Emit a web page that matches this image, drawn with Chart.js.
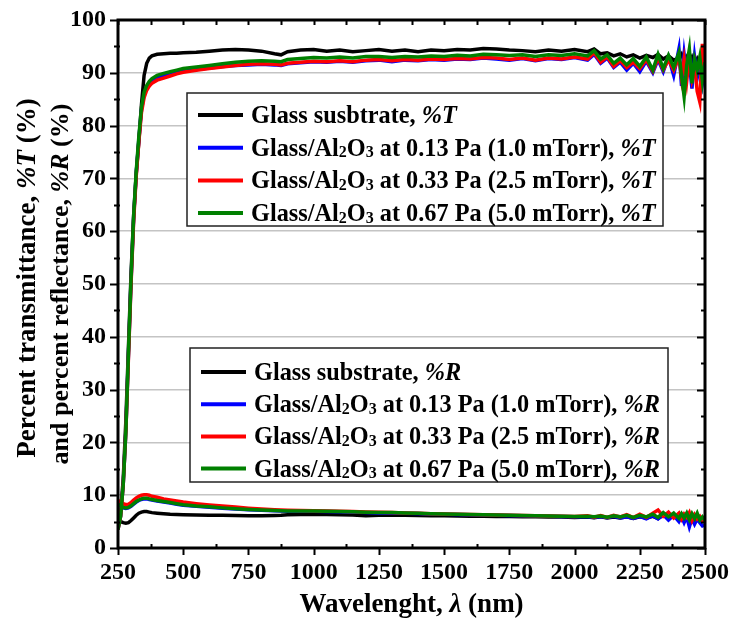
<!DOCTYPE html>
<html>
<head>
<meta charset="utf-8">
<script src="https://cdn.jsdelivr.net/npm/chart.js@4.4.1/dist/chart.umd.min.js"></script>
<style>
  html, body { margin: 0; padding: 0; background: #fff; }
  #wrap { position: relative; width: 731px; height: 626px; }
</style>
</head>
<body>
<div id="wrap"><canvas id="spectra"></canvas></div>
<script>
// wavelength, nm (shared by all series)
var wavelength = [250, 260, 270, 280, 290, 300, 310, 320, 330, 340, 350, 360, 370, 380, 400, 425, 450, 475, 500,
  550, 600, 650, 700, 750, 800, 850, 875, 900, 950, 1000, 1050, 1100, 1150, 1200, 1250, 1300, 1350, 1400, 1450,
  1500, 1550, 1600, 1650, 1700, 1750, 1800, 1850, 1900, 1950, 2000, 2050, 2075, 2100, 2125, 2150, 2175, 2200,
  2225, 2250, 2275, 2300, 2320, 2340, 2360, 2380, 2400, 2410, 2420, 2430, 2440, 2450, 2460, 2470, 2480, 2490, 2500];

// transmittance %T
var glassT = [4, 7, 13, 24, 38, 52, 63, 71, 77, 84, 89.5, 91.8, 92.8, 93.2, 93.5, 93.6, 93.7, 93.7, 93.8,
  93.9, 94.1, 94.3, 94.4, 94.3, 94.1, 93.6, 93.4, 94.0, 94.3, 94.4, 94.1, 94.3, 94.0, 94.2, 94.4, 94.1, 94.3, 94.0, 94.3,
  94.2, 94.4, 94.3, 94.6, 94.5, 94.3, 94.2, 94.0, 94.3, 94.1, 94.4, 94.0, 94.5, 93.6, 93.8, 93.2, 93.6, 93.0,
  93.4, 92.8, 93.3, 92.9, 93.5, 92.6, 93.2, 92.4, 92.8, 93.5, 92.2, 93.0, 91.8, 92.9, 91.5, 92.6, 91.4, 92.3, 91.5];
var al013T = [3.5, 6, 12, 22, 36.5, 50.5, 62.5, 71, 77.5, 83, 85.8, 87.1, 87.9, 88.4, 89.0, 89.4, 89.7, 90.0, 90.3,
  90.6, 90.9, 91.2, 91.4, 91.5, 91.6, 91.5, 91.4, 91.7, 91.9, 92.1, 92.0, 92.2, 92.0, 92.3, 92.4, 92.1, 92.4, 92.3, 92.5,
  92.4, 92.6, 92.5, 92.8, 92.6, 92.4, 92.7, 92.3, 92.7, 92.5, 92.9, 92.4, 93.5, 91.8, 92.8, 91.0, 92.0, 90.5,
  91.8, 90.2, 92.2, 90.0, 92.5, 90.2, 93.0, 89.5, 94.5, 87.5, 93.5, 89.5, 92.0, 87.0, 93.0, 89.0, 91.5, 88.0, 91.0];
var al033T = [3.5, 6, 12, 22, 36, 50, 62, 70.5, 77, 82.5, 85.3, 86.7, 87.5, 88.0, 88.6, 89.0, 89.4, 89.8, 90.1,
  90.5, 90.8, 91.1, 91.4, 91.6, 91.7, 91.6, 91.5, 91.8, 92.0, 92.2, 92.1, 92.3, 92.1, 92.4, 92.5, 92.3, 92.5, 92.4, 92.6,
  92.5, 92.7, 92.6, 92.9, 92.8, 92.5, 92.8, 92.4, 92.8, 92.6, 93.0, 92.6, 93.8, 92.0, 93.0, 91.2, 92.3, 91.0,
  92.0, 90.8, 92.5, 90.3, 92.8, 90.6, 92.5, 90.5, 93.0, 89.0, 92.5, 88.5, 93.2, 89.0, 91.5, 86.5, 84.5, 95.5, 89.0];
var al067T = [3.5, 6, 12, 22, 37, 51, 63, 71.5, 78, 83.5, 86.3, 87.6, 88.4, 88.9, 89.5, 89.9, 90.2, 90.5, 90.8,
  91.1, 91.4, 91.7, 92.0, 92.2, 92.3, 92.2, 92.1, 92.5, 92.7, 92.9, 92.8, 93.0, 92.8, 93.1, 93.1, 92.9, 93.1, 93.0, 93.2,
  93.1, 93.3, 93.2, 93.5, 93.4, 93.3, 93.4, 93.1, 93.4, 93.3, 93.6, 93.2, 94.2, 92.6, 93.4, 91.8, 92.8, 91.5,
  92.7, 91.2, 93.0, 90.5, 93.5, 90.8, 93.3, 91.0, 93.8, 89.5, 85.5, 91.5, 94.5, 88.0, 92.5, 90.5, 93.0, 88.5, 92.0];

// reflectance %R
var glassR = [5.0, 5.0, 4.8, 4.7, 4.8, 5.2, 5.7, 6.2, 6.6, 6.8, 6.9, 6.9, 6.8, 6.7, 6.6, 6.5, 6.4, 6.35, 6.3,
  6.25, 6.2, 6.2, 6.15, 6.1, 6.1, 6.15, 6.2, 6.3, 6.35, 6.4, 6.35, 6.3, 6.25, 6.1, 6.2, 6.25, 6.2, 6.15, 6.1,
  6.1, 6.05, 6.0, 6.0, 5.95, 5.95, 5.9, 5.9, 5.85, 5.85, 5.8, 5.85, 5.75, 5.9, 5.7, 5.85, 5.7, 5.9,
  5.6, 5.9, 5.7, 6.0, 5.6, 6.2, 5.7, 6.1, 5.5, 6.3, 5.4, 6.0, 5.5, 6.2, 5.2, 6.0, 5.3, 5.6, 4.9];
var al013R = [8.2, 7.9, 7.6, 7.5, 7.6, 7.9, 8.3, 8.7, 9.0, 9.2, 9.3, 9.3, 9.2, 9.1, 8.9, 8.7, 8.5, 8.3, 8.1,
  7.9, 7.7, 7.55, 7.4, 7.25, 7.15, 7.05, 7.0, 6.95, 6.95, 6.95, 6.9, 6.85, 6.8, 6.7, 6.65, 6.65, 6.6, 6.55, 6.45,
  6.4, 6.35, 6.3, 6.25, 6.2, 6.15, 6.1, 6.05, 6.0, 5.95, 5.9, 5.9, 5.8, 5.95, 5.75, 6.0, 5.7, 5.9,
  5.6, 6.0, 5.5, 6.1, 5.5, 6.3, 5.3, 6.2, 5.0, 6.0, 4.8, 5.9, 4.0, 5.6, 4.5, 5.5, 4.8, 4.2, 4.4];
var al033R = [9.0, 8.7, 8.4, 8.2, 8.3, 8.6, 9.1, 9.5, 9.8, 10.0, 10.1, 10.1, 10.0, 9.8, 9.6, 9.3, 9.1, 8.9, 8.7,
  8.4, 8.15, 7.95, 7.75, 7.55, 7.4, 7.25, 7.2, 7.15, 7.1, 7.05, 7.0, 6.95, 6.9, 6.8, 6.75, 6.7, 6.65, 6.6, 6.5,
  6.45, 6.4, 6.35, 6.3, 6.25, 6.2, 6.15, 6.1, 6.05, 6.0, 5.95, 6.1, 5.85, 6.15, 5.8, 6.2, 5.9, 6.3,
  5.75, 6.4, 5.8, 6.6, 7.2, 6.0, 6.8, 5.7, 6.6, 5.5, 6.4, 5.8, 6.7, 5.2, 6.3, 5.5, 6.0, 5.1, 5.0];
var al067R = [8.3, 8.0, 7.7, 7.6, 7.7, 8.0, 8.4, 8.8, 9.1, 9.3, 9.4, 9.4, 9.3, 9.2, 9.0, 8.8, 8.6, 8.4, 8.2,
  7.95, 7.8, 7.6, 7.45, 7.3, 7.2, 7.1, 7.05, 7.0, 7.0, 7.0, 6.95, 6.9, 6.85, 6.75, 6.7, 6.7, 6.65, 6.6, 6.5,
  6.45, 6.4, 6.35, 6.3, 6.25, 6.2, 6.15, 6.1, 6.05, 6.0, 5.95, 6.0, 5.9, 6.05, 5.85, 6.1, 5.9, 6.2,
  5.8, 6.2, 5.9, 6.4, 5.8, 6.7, 5.9, 6.6, 5.6, 6.5, 5.7, 6.6, 5.4, 6.5, 5.6, 6.6, 5.3, 5.9, 5.2];

var transLabels = ['Glass susbtrate, %T',
  'Glass/Al2O3 at 0.13 Pa (1.0 mTorr), %T',
  'Glass/Al2O3 at 0.33 Pa (2.5 mTorr), %T',
  'Glass/Al2O3 at 0.67 Pa (5.0 mTorr), %T'];
var reflLabels = ['Glass substrate, %R',
  'Glass/Al2O3 at 0.13 Pa (1.0 mTorr), %R',
  'Glass/Al2O3 at 0.33 Pa (2.5 mTorr), %R',
  'Glass/Al2O3 at 0.67 Pa (5.0 mTorr), %R'];

var xTickValues = [250, 500, 750, 1000, 1250, 1500, 1750, 2000, 2250, 2500];
var yTickValues = [0, 10, 20, 30, 40, 50, 60, 70, 80, 90, 100];

var lineColors = ['#000000', '#0000ff', '#ff0000', '#008000'];
var FONT = "'Liberation Serif', 'Times New Roman', serif";

function pts(ys) {
  return ys.map(function(y, i) { return { x: wavelength[i], y: y }; });
}

var tSeries = [glassT, al013T, al033T, al067T];
var rSeries = [glassR, al013R, al033R, al067R];
var datasets = [];
tSeries.forEach(function(s, i) {
  datasets.push({ label: transLabels[i], data: pts(s), borderColor: lineColors[i], order: 3 - i });
});
rSeries.forEach(function(s, i) {
  datasets.push({ label: reflLabels[i], data: pts(s), borderColor: lineColors[i], order: 3 - i });
});

// split a label into pieces: Al2O3 gets subscripts, %T / %R / λ italic
function richParts(label) {
  var out = [];
  label.split(/(Al2O3|%T|%R|λ)/).forEach(function(p) {
    if (!p) return;
    if (p === 'Al2O3') {
      out.push({ t: 'Al' }, { t: '2', sub: true }, { t: 'O' }, { t: '3', sub: true });
    } else if (p === '%T' || p === '%R' || p === 'λ') {
      out.push({ t: p, it: true });
    } else {
      out.push({ t: p });
    }
  });
  return out;
}

function drawRich(ctx, text, x, y, size, center) {
  var parts = richParts(text);
  function fontFor(p) {
    var s = p.sub ? Math.round(size * 0.66) : size;
    return (p.it ? 'italic ' : '') + 'bold ' + s + 'px ' + FONT;
  }
  var total = 0;
  parts.forEach(function(p) {
    ctx.font = fontFor(p);
    p.w = ctx.measureText(p.t).width;
    total += p.w;
  });
  var cx = center ? x - total / 2 : x;
  ctx.textAlign = 'left';
  ctx.textBaseline = 'alphabetic';
  ctx.fillStyle = '#000';
  parts.forEach(function(p) {
    ctx.font = fontFor(p);
    ctx.fillText(p.t, cx, y + (p.sub ? size * 0.06 : 0));
    cx += p.w;
  });
}

var framePlugin = {
  id: 'frame',
  afterDatasetsDraw: function(chart) {
    var ctx = chart.ctx, a = chart.chartArea;
    var xs = chart.scales.x, ys = chart.scales.y;
    ctx.save();
    ctx.strokeStyle = '#000';
    ctx.lineWidth = 2;
    // ticks
    for (var v = 0; v <= 100; v += 5) {
      var py = Math.round(ys.getPixelForValue(v)) + 0.5;
      var major = v % 10 === 0;
      ctx.beginPath();
      ctx.moveTo(a.left - (major ? 8 : 4), py);
      ctx.lineTo(a.left + (major ? 0 : 2), py);
      ctx.moveTo(a.right, py);
      ctx.lineTo(a.right - (major ? 8 : 4), py);
      ctx.stroke();
    }
    for (var w = 250; w <= 2500; w += 125) {
      var px = Math.round(xs.getPixelForValue(w)) + 0.5;
      var maj = (w - 250) % 250 === 0;
      ctx.beginPath();
      if (maj) { ctx.moveTo(px, a.bottom); ctx.lineTo(px, a.bottom + 7); }
      else { ctx.moveTo(px, a.bottom); ctx.lineTo(px, a.bottom - 4); }
      ctx.moveTo(px, a.top);
      ctx.lineTo(px, a.top + 5);
      ctx.stroke();
    }
    ctx.lineWidth = 3;
    ctx.strokeRect(a.left, a.top, a.right - a.left, a.bottom - a.top);

    // axis titles
    drawRich(ctx, 'Wavelenght, λ (nm)', (a.left + a.right) / 2, 612, 27, true);
    var cy = (a.top + a.bottom) / 2;
    ctx.translate(0, cy);
    ctx.rotate(-Math.PI / 2);
    drawRich(ctx, 'Percent transmittance, %T (%)', 6, 35, 27, true);
    drawRich(ctx, 'and percent reflectance, %R (%)', 0, 68, 26, true);
    ctx.restore();
  }
};

var legendBoxes = [
  { x: 187, y: 93, w: 476, h: 133, first: 0, rowY: 22, rowGap: 32.7 },
  { x: 190, y: 348, w: 478, h: 134, first: 4, rowY: 24, rowGap: 32.2 }
];

var boxLegendPlugin = {
  id: 'boxLegend',
  afterDraw: function(chart) {
    var ctx = chart.ctx;
    ctx.save();
    legendBoxes.forEach(function(b) {
      ctx.fillStyle = '#fff';
      ctx.fillRect(b.x, b.y, b.w, b.h);
      ctx.strokeStyle = '#222';
      ctx.lineWidth = 1.5;
      ctx.strokeRect(b.x, b.y, b.w, b.h);
      for (var i = 0; i < 4; i++) {
        var ds = chart.data.datasets[b.first + i];
        var ly = b.y + b.rowY + i * b.rowGap;
        ctx.strokeStyle = ds.borderColor;
        ctx.lineWidth = 4;
        ctx.beginPath();
        ctx.moveTo(b.x + 11, ly);
        ctx.lineTo(b.x + 56, ly);
        ctx.stroke();
        drawRich(ctx, ds.label, b.x + 64, ly + 8, 24.3, false);
      }
    });
    ctx.restore();
  }
};

var tickFont = { family: FONT, size: 24, weight: 'bold' };

new Chart(document.getElementById('spectra'), {
  type: 'line',
  data: { datasets: datasets },
  options: {
    responsive: true,
    maintainAspectRatio: false,
    animation: false,
    layout: { padding: { top: 20, right: 26, left: 0, bottom: 0 } },
    elements: {
      line: { borderWidth: 3.5, tension: 0, fill: false },
      point: { radius: 0, hoverRadius: 0 }
    },
    plugins: { legend: { display: false }, tooltip: { enabled: false } },
    scales: {
      x: {
        type: 'linear', min: 250, max: 2500,
        afterBuildTicks: function(s) { s.ticks = xTickValues.map(function(v) { return { value: v }; }); },
        afterFit: function(s) { s.height = 78; s.paddingLeft = 0; s.paddingRight = 0; },
        ticks: {
          font: tickFont, color: '#000', padding: 10, maxRotation: 0, autoSkip: false,
          callback: function(v) { return String(v); }
        },
        grid: { display: false, drawTicks: false },
        border: { display: false }
      },
      y: {
        min: 0, max: 100,
        afterBuildTicks: function(s) { s.ticks = yTickValues.map(function(v) { return { value: v }; }); },
        afterFit: function(s) { s.width = 118; s.paddingTop = 0; s.paddingBottom = 0; },
        ticks: { font: tickFont, color: '#000', padding: 12 },
        grid: { color: '#c4c4c4', lineWidth: 1.5, drawTicks: false },
        border: { display: false }
      }
    }
  },
  plugins: [framePlugin, boxLegendPlugin]
});
</script>
</body>
</html>
